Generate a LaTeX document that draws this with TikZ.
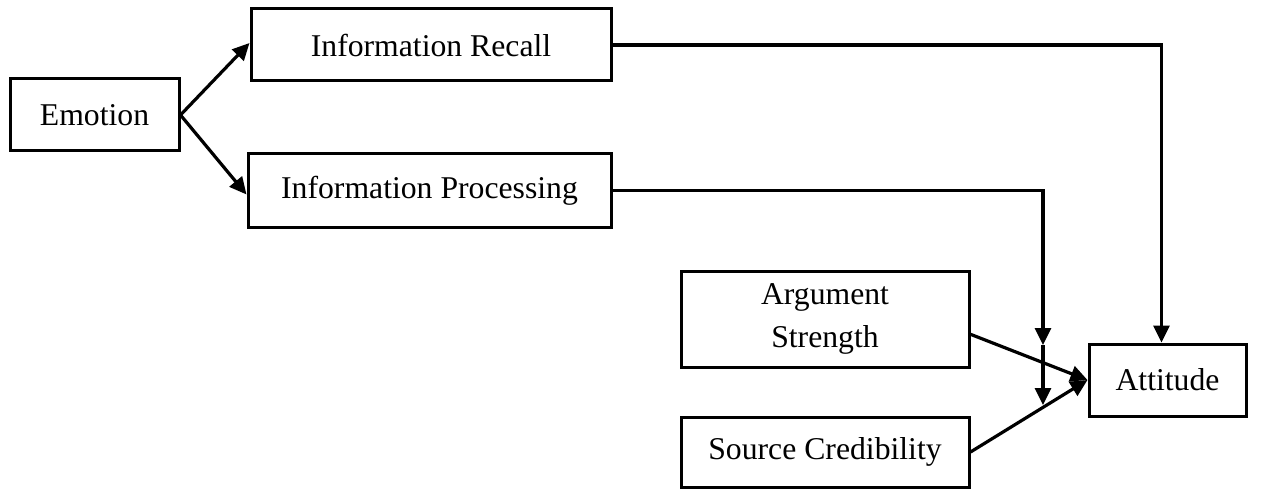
\documentclass[tikz,border=0pt]{standalone}
\usepackage{fontspec}
\setmainfont{Liberation Serif}
\usetikzlibrary{positioning,arrows.meta}
\tikzset{
  blk/.style={draw,line width=3pt,align=center,inner sep=0pt,font=\fontsize{31.7}{43}\selectfont},
  lnk/.style={line width=3pt},
  arr/.style={line width=3.2pt,-{Triangle[length=17pt,width=16pt]}}
}

\begin{document}
\begin{tikzpicture}[x=1pt,y=-1pt]
  \useasboundingbox (0,0) rectangle (1265,489);
  \node[blk,minimum width=169pt,minimum height=72pt] (emo) at (94.5,115) {Emotion};
  \node[blk,minimum width=360pt,minimum height=72pt] (recall) at (431,45) {Information Recall};
  \node[blk,minimum width=363pt,minimum height=73pt] (proc) at (429.5,190.5) {Information Processing};
  \node[blk,minimum width=288pt,minimum height=96pt] (arg) at (825,319) {Argument\\Strength};
  \node[blk,minimum width=288pt,minimum height=70pt] (src) at (825,452) {Source Credibility};
  \node[blk,minimum width=157pt,minimum height=72pt] (att) at (1167.5,380) {Attitude};
  \coordinate (m1) at (1043,345);
  \coordinate (m2) at (1043,405);
  % emotion to mediators
  \draw[arr] (emo.east) -- ([yshift=2pt]recall.west);
  \draw[arr] (emo.east) -- ([yshift=-4pt]proc.west);
  % mediators to attitude
  \draw[arr] (recall.east) -| ([xshift=-6pt]att.north);
  \draw[arr] (proc.east) -| (m1);
  \draw[arr] (m1) -- (m2);
  \draw[arr] (arg.-6) -- (att.west);
  \draw[arr] (src.east) -- (att.west);
\end{tikzpicture}
\end{document}
